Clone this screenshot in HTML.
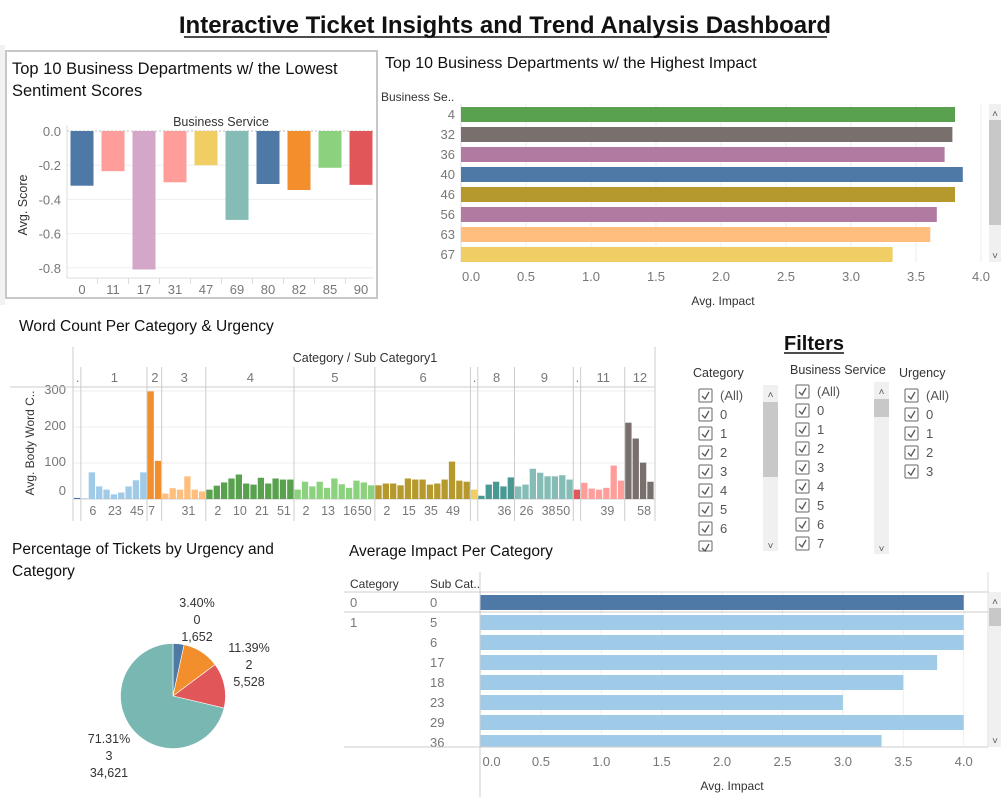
<!DOCTYPE html>
<html><head><meta charset="utf-8"><style>
body{margin:0;background:#fff;}
svg{display:block;font-family:"Liberation Sans",sans-serif;}
</style></head><body>
<svg id="s" width="1001" height="797" viewBox="0 0 1001 797" xmlns="http://www.w3.org/2000/svg">
<rect x="0" y="0" width="1001" height="797" fill="#fff"/>
<text x="505" y="33" text-anchor="middle" font-size="24" font-weight="bold" fill="#111">Interactive Ticket Insights and Trend Analysis Dashboard</text>
<line x1="184" y1="37" x2="827" y2="37" stroke="#111" stroke-width="1.5"/>
<rect x="0" y="45" width="5" height="260" fill="#f2f2f2"/>
<rect x="6" y="51" width="371" height="247" fill="none" stroke="#c8c8c8" stroke-width="2"/>
<text x="12" y="74" font-size="16.5" fill="#111">Top 10 Business Departments w/ the Lowest</text>
<text x="12" y="96" font-size="16.5" fill="#111">Sentiment Scores</text>
<text x="385" y="68" font-size="16" fill="#111">Top 10 Business Departments w/ the Highest Impact</text>
<text x="19" y="331" font-size="15.5" fill="#111">Word Count Per Category &amp; Urgency</text>
<text x="12" y="554" font-size="15.5" fill="#111">Percentage of Tickets by Urgency and</text>
<text x="12" y="576" font-size="15.5" fill="#111">Category</text>
<text x="349" y="556" font-size="15.5" fill="#111">Average Impact Per Category</text>
<text x="814" y="350" text-anchor="middle" font-size="20" font-weight="bold" fill="#111">Filters</text>
<line x1="784" y1="353" x2="844" y2="353" stroke="#111" stroke-width="1.5"/>
<g id="g1"></g><g id="g2"></g><g id="g3"></g><g id="g4"></g><g id="g5"></g><g id="g6"></g>
</svg>
<script>
// ---- data: sentiment ----
const sentCats = ["0","11","17","31","47","69","80","82","85","90"];
const sentVals = [-0.32,-0.235,-0.81,-0.30,-0.20,-0.52,-0.31,-0.345,-0.215,-0.315];
const sentColors = ["#4e79a7","#ff9d9a","#d4a6c8","#ff9d9a","#f1ce63","#86bcb6","#4e79a7","#f28e2b","#8cd17d","#e15759"];
const sentTicks = [0,-0.2,-0.4,-0.6,-0.8];
// ---- data: highest impact ----
const impCats = ["4","32","36","40","46","56","63","67"];
const impVals = [3.80,3.78,3.72,3.86,3.80,3.66,3.61,3.32];
const impColors = ["#59a14f","#79706e","#b07aa1","#4e79a7","#b6992d","#b07aa1","#ffbe7d","#f1ce63"];
const impTicks = [0,0.5,1,1.5,2,2.5,3,3.5,4];
// ---- data: word count ----
const wcCats = [".","1","2","3","4","5","6",".","8","9",".","11","12"];
const wcCounts = [1,9,2,6,12,11,13,1,5,8,1,6,4];
const wcColors = ["#4e79a7","#a0cbe8","#f28e2b","#ffbe7d","#59a14f","#8cd17d","#b6992d","#f1ce63","#499894","#86bcb6","#e15759","#ff9d9a","#79706e"];
const wcValues = [3,
 2,74,35,26,13,18,35,52,74,
 299,106,
 15,30,26,63,26,21,
 26,37,46,57,68,43,40,59,43,57,54,54,
 26,48,35,48,31,57,41,31,51,46,38,
 38,43,43,38,57,54,54,40,43,54,104,51,48,
 26,
 9,40,48,35,60,
 35,40,84,73,63,63,66,54,
 26,
 45,29,26,31,93,51,
 212,168,101,48];
const wcSubLabels = ["",
 "","6","","","23","","","45","",
 "7","",
 "","","","31","","",
 "","2","","","10","","","21","","","51","",
 "","2","","","13","","","16","","50","",
 "","2","","","15","","","35","","","49","","",
 "",
 "","","","36","",
 "","26","","","38","","50","",
 "",
 "","","","39","","",
 "","","58",""];
const wcTicks = [0,100,200,300];
// ---- data: pie ----
const pieLabels = ["0","2","1","3"];
const piePcts = [3.40,11.39,13.90,71.31];
const pieCounts = ["1,652","5,528","","34,621"];
const pieColors = ["#4e79a7","#f28e2b","#e15759","#79b7b2"];
// ---- data: avg impact per category ----
const aiCategory = ["0","1","","","","","",""];
const aiSub = ["0","5","6","17","18","23","29","36"];
const aiVals = [4.0,4.0,4.0,3.78,3.5,3.0,4.0,3.32];
const aiColors = ["#4e79a7","#a0cbe8","#a0cbe8","#a0cbe8","#a0cbe8","#a0cbe8","#a0cbe8","#a0cbe8"];
const aiTicks = [0,0.5,1,1.5,2,2.5,3,3.5,4];
// ---- data: filters ----
const fCategory = ["(All)","0","1","2","3","4","5","6","7"];
const fService = ["(All)","0","1","2","3","4","5","6","7"];
const fUrgency = ["(All)","0","1","2","3"];

const NS="http://www.w3.org/2000/svg";
function mk(parent,tag,attrs,text){const e=document.createElementNS(NS,tag);for(const k in attrs)e.setAttribute(k,attrs[k]);if(text!==undefined)e.textContent=text;parent.appendChild(e);return e;}
const TICK="#777";

// ===== Sentiment chart =====
(function(){
 const g=document.getElementById('g1');
 const x0=67,pitch=31,bw=23,y=v=>131-v*171;
 sentTicks.forEach(t=>{
  const gl=mk(g,'line',{x1:x0,x2:373,y1:y(t),y2:y(t),stroke:t===0?"#bbb":"#eee","stroke-dasharray":t===0?"2,2":""});
  
  
  const tl=mk(g,'text',{x:61,y:y(t)+5,"text-anchor":"end","font-size":13,fill:TICK},t.toFixed(1));
  
  
 });
 mk(g,'line',{x1:x0,x2:x0,y1:125,y2:278,stroke:"#ddd"});
 mk(g,'line',{x1:x0,x2:373,y1:278,y2:278,stroke:"#ddd"});
 const ht=mk(g,'text',{x:221,y:126,"text-anchor":"middle","font-size":12.5,fill:"#333"},"Business Service");
 
 
 const yt=mk(g,'text',{x:27,y:205,"text-anchor":"middle","font-size":12.5,fill:"#333",transform:"rotate(-90 27 205)"},"Avg. Score");
 
 
 sentVals.forEach((v,i)=>{
  const cx=x0+3+pitch*i+bw/2+0.5;
  const b=mk(g,'rect',{x:cx-bw/2,y:y(0),width:bw,height:y(v)-y(0),fill:sentColors[i]});
  
  
  const l=mk(g,'text',{x:cx,y:294,"text-anchor":"middle","font-size":13,fill:TICK},sentCats[i]);
  
  
  if(i>0) mk(g,'line',{x1:cx-pitch/2,x2:cx-pitch/2,y1:278,y2:284,stroke:"#ddd"});
 });
})();

// ===== Highest impact =====
(function(){
 const g=document.getElementById('g2');
 const x=v=>461+v*130;
 impTicks.forEach(t=>{
  mk(g,'line',{x1:x(t),x2:x(t),y1:104,y2:262,stroke:"#eee"});
  const tl=mk(g,'text',{x:t===0?x(t)+1:x(t),y:281,"text-anchor":t===0?"start":"middle","font-size":13,fill:TICK},t.toFixed(1));
  
  
 });
 mk(g,'line',{x1:x(0),x2:x(0),y1:104,y2:262,stroke:"#ddd"});
 const h=mk(g,'text',{x:381,y:101,"font-size":12,fill:"#333"},"Business Se..");
 
 
 impVals.forEach((v,i)=>{
  const top=107+20*i;
  const b=mk(g,'rect',{x:x(0),y:top,width:x(v)-x(0),height:15,fill:impColors[i]});
  
  
  const l=mk(g,'text',{x:455,y:top+12,"text-anchor":"end","font-size":13,fill:TICK},impCats[i]);
  
  
 });
 const xt=mk(g,'text',{x:723,y:305,"text-anchor":"middle","font-size":12,fill:"#333"},"Avg. Impact");
 
 
 const sb=mk(g,'rect',{x:989,y:104,width:12,height:158,fill:"#f0f0f0"});
 
 
 mk(g,'rect',{x:989,y:120,width:12,height:105,fill:"#c8c8c8"});
 mk(g,'text',{x:995,y:117,"text-anchor":"middle","font-size":10,fill:"#555"},"˄");
 mk(g,'text',{x:995,y:259,"text-anchor":"middle","font-size":10,fill:"#555"},"˅");
})();

// ===== Word count =====
(function(){
 const g=document.getElementById('g3');
 const x0=74,pitch=7.35,bw=6.3,base=499,y=v=>base-v*0.36;
 wcTicks.forEach(t=>{
  mk(g,'line',{x1:73,x2:655,y1:y(t),y2:y(t),stroke:t===0?"#ccc":"#eee"});
  const tl=mk(g,'text',{x:66,y:y(t)+(t===0?-4:3),"text-anchor":"end","font-size":13,fill:TICK},String(t));
  
  
 });
 const yt=mk(g,'text',{x:34,y:443,"text-anchor":"middle","font-size":12,fill:"#333",transform:"rotate(-90 34 443)"},"Avg. Body Word C..");
 
 
 const ht=mk(g,'text',{x:365,y:362,"text-anchor":"middle","font-size":12.5,fill:"#333"},"Category / Sub Category1");
 
 
 mk(g,'line',{x1:73,x2:73,y1:347,y2:521,stroke:"#ccc"});
 mk(g,'line',{x1:655,x2:655,y1:347,y2:521,stroke:"#ccc"});
 mk(g,'line',{x1:10,x2:655,y1:387,y2:387,stroke:"#ccc"});
 let idx=0;
 wcCats.forEach((c,ci)=>{
  const sx=x0+idx*pitch, ex=x0+(idx+wcCounts[ci])*pitch;
  if(ci>0) mk(g,'line',{x1:sx-0.5,x2:sx-0.5,y1:367,y2:521,stroke:"#ccc"});
  const cl=mk(g,'text',{x:(sx+ex)/2,y:382,"text-anchor":"middle","font-size":13,fill:TICK},c);
  
  
  for(let k=0;k<wcCounts[ci];k++){
   const i=idx+k, v=wcValues[i], bx=x0+i*pitch;
   const b=mk(g,'rect',{x:bx,y:y(v),width:bw,height:base-y(v),fill:wcColors[ci]});
   
   
   if(wcSubLabels[i]){
    const l=mk(g,'text',{x:bx+bw/2+1,y:515,"text-anchor":"middle","font-size":12.5,fill:TICK},wcSubLabels[i]);
    
    
   }
  }
  idx+=wcCounts[ci];
 });
})();

// ===== Filters =====
(function(){
 const g=document.getElementById('g4');
 function list(title,tx,ty,items,bx,by,sb,name){
  const t=mk(g,'text',{x:tx,y:ty,"font-size":12.5,fill:"#333"},title);
  
  
  items.forEach((it,i)=>{
   const yy=by+i*19;
   if(yy>550) return;
   const h=Math.min(13,551-yy);
   const box=mk(g,'rect',{x:bx,y:yy,width:13,height:h,fill:"#fff",stroke:"#666","stroke-width":1,rx:1});
   
   
   if(h>9) mk(g,'path',{d:`M${bx+3} ${yy+7} L${bx+6} ${yy+10} L${bx+10} ${yy+3}`,fill:"none",stroke:"#555","stroke-width":1.3});
   if(yy+12<552){
    const l=mk(g,'text',{x:bx+21,y:yy+11,"font-size":13,fill:"#555"},it);
    
    
   }
  });
  if(sb){
   const s=mk(g,'rect',{x:sb[0],y:sb[1],width:15,height:sb[2]-sb[1],fill:"#f0f0f0"});
   
   
   mk(g,'rect',{x:sb[0],y:sb[3],width:15,height:sb[4]-sb[3],fill:"#c8c8c8"});
   mk(g,'text',{x:sb[0]+7.5,y:sb[1]+13,"text-anchor":"middle","font-size":10,fill:"#555"},"˄");
   mk(g,'text',{x:sb[0]+7.5,y:sb[2]-2,"text-anchor":"middle","font-size":10,fill:"#555"},"˅");
  }
 }
 list("Category",693,377,fCategory,699,389,[763,385,551,402,477],"category");
 list("Business Service",790,374,fService,796,385,[874,382,554,399,417],"business-service");
 list("Urgency",899,377,fUrgency,905,389,null,"urgency");
})();

// ===== Pie =====
(function(){
 const g=document.getElementById('g5');
 const cx=173,cy=696,r=52.5;
 let a=0;
 const total=piePcts.reduce((s,v)=>s+v,0);
 piePcts.forEach((p,i)=>{
  const a0=a, a1=a+p/total*2*Math.PI; a=a1;
  const x0=cx+r*Math.sin(a0), y0=cy-r*Math.cos(a0), x1=cx+r*Math.sin(a1), y1=cy-r*Math.cos(a1);
  const large=(a1-a0)>Math.PI?1:0;
  const s=mk(g,'path',{d:`M${cx} ${cy} L${x0} ${y0} A${r} ${r} 0 ${large} 1 ${x1} ${y1} Z`,fill:pieColors[i],stroke:"#fff","stroke-width":0.6});
  
  
 });
 const pos=[[197,607],[249,652],null,[109,743]];
 piePcts.forEach((p,i)=>{
  if(!pos[i]) return;
  const lines=[p.toFixed(2)+"%",pieLabels[i],pieCounts[i]];
  lines.forEach((t,k)=>{
   const l=mk(g,'text',{x:pos[i][0],y:pos[i][1]+k*17,"text-anchor":"middle","font-size":12.5,fill:"#333"},t);
   
   
  });
 });
})();

// ===== Avg impact per category =====
(function(){
 const g=document.getElementById('g6');
 const x=v=>480.5+v*120.8;
 aiTicks.forEach(t=>{
  mk(g,'line',{x1:x(t),x2:x(t),y1:592,y2:747,stroke:"#eee"});
  const tl=mk(g,'text',{x:t===0?x(t)+2:x(t),y:766,"text-anchor":t===0?"start":"middle","font-size":13,fill:TICK},t.toFixed(1));
  
  
 });
 mk(g,'line',{x1:480,x2:480,y1:572,y2:797,stroke:"#ccc"});
 mk(g,'line',{x1:988,x2:988,y1:572,y2:747,stroke:"#ddd"});
 mk(g,'line',{x1:344,x2:988,y1:592,y2:592,stroke:"#ccc"});
 mk(g,'line',{x1:344,x2:988,y1:612,y2:612,stroke:"#ccc"});
 const h1=mk(g,'text',{x:350,y:588,"font-size":12,fill:"#333"},"Category");
 
 
 const h2=mk(g,'text',{x:430,y:588,"font-size":12,fill:"#333"},"Sub Cat..");
 
 
 aiVals.forEach((v,i)=>{
  const top=595+20*i;
  const hh=Math.min(15,747-top);
  const b=mk(g,'rect',{x:x(0),y:top,width:x(v)-x(0),height:hh,fill:aiColors[i]});
  
  
  if(aiCategory[i]){
   const c=mk(g,'text',{x:350,y:top+12,"font-size":13,fill:"#777"},aiCategory[i]);
   
   
  }
  const l=mk(g,'text',{x:430,y:top+12,"font-size":13,fill:TICK},aiSub[i]);
  
  
 });
 mk(g,'rect',{x:344,y:748,width:640,height:8,fill:"#fff"});
 mk(g,'line',{x1:344,x2:988,y1:747,y2:747,stroke:"#ccc"});
 mk(g,'line',{x1:480,x2:480,y1:747,y2:797,stroke:"#ccc"});
 const xt=mk(g,'text',{x:732,y:790,"text-anchor":"middle","font-size":12,fill:"#333"},"Avg. Impact");
 
 
 const sb=mk(g,'rect',{x:989,y:592,width:12,height:155,fill:"#f0f0f0"});
 
 
 mk(g,'rect',{x:989,y:608,width:12,height:18,fill:"#c8c8c8"});
 mk(g,'text',{x:995,y:605,"text-anchor":"middle","font-size":10,fill:"#555"},"˄");
 mk(g,'text',{x:995,y:744,"text-anchor":"middle","font-size":10,fill:"#555"},"˅");
})();
</script>
</body></html>
